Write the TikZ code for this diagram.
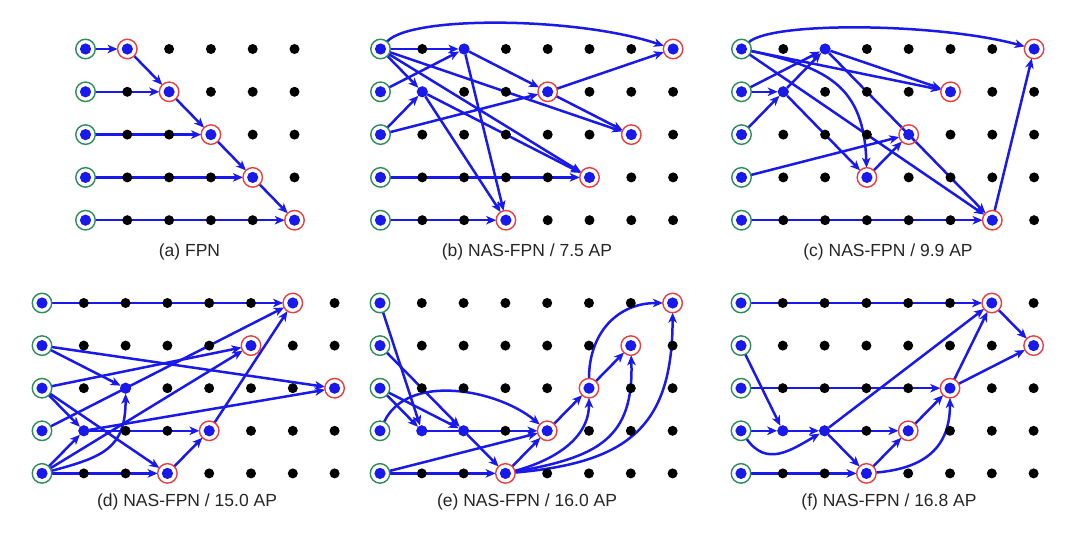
\documentclass[tikz,border=0pt]{standalone}
\usepackage{fontspec}
\setmainfont{Liberation Sans}
\usetikzlibrary{arrows.meta}
\definecolor{nblue}{RGB}{25,25,235}
\definecolor{ngreen}{RGB}{45,140,90}
\definecolor{nred}{RGB}{232,62,62}
\pgfdeclarelayer{paper}
\pgfdeclarelayer{edges}
\pgfsetlayers{paper,edges,main}
\tikzset{
  inpn/.style={circle, draw=ngreen, line width=1.4pt, minimum size=19.5pt, inner sep=0pt, outer sep=0pt,
    path picture={\fill[nblue] (path picture bounding box.center) circle (5.6pt);}},
  outn/.style={inpn, draw=nred},
  midn/.style={circle, fill=nblue, minimum size=11.2pt, inner sep=0pt, outer sep=0pt},
  conn/.style={draw=nblue, line width=2.5pt, -{Stealth[length=10pt,width=8.5pt,inset=2.8pt]}},
  capt/.style={font=\fontsize{17.5}{21}\selectfont, inner sep=0pt, text=black!85},
  gdot/.style={fill=black},
}
\newcommand{\gridots}[1]{\foreach \c in {0,...,#1} \foreach \r in {0,...,4} \fill[gdot] (\c,-\r) circle (5pt);}
\begin{document}
\begin{tikzpicture}
\begin{pgfonlayer}{paper}
\fill[white] (0,0) rectangle (1080pt,542pt);
\end{pgfonlayer}
\useasboundingbox (0,0) rectangle (1080pt,542pt);

% ---------- (a) ----------
\begin{scope}[shift={(85.5pt,493pt)}, x=41.8pt, y=42.8pt]
 \gridots{5}
 \foreach \r in {0,...,4} \node[inpn] (a0\r) at (0,-\r) {};
 \node[outn] (a10) at (1,0) {};
 \node[outn] (a21) at (2,-1) {};
 \node[outn] (a32) at (3,-2) {};
 \node[outn] (a43) at (4,-3) {};
 \node[outn] (a54) at (5,-4) {};
 \begin{pgfonlayer}{edges}
  \draw[conn] (a00) -- (a10);
  \draw[conn] (a10) -- (a21);
  \draw[conn] (a01) -- (a21);
  \draw[conn] (a21) -- (a32);
  \draw[conn] (a02) -- (a32);
  \draw[conn] (a32) -- (a43);
  \draw[conn] (a03) -- (a43);
  \draw[conn] (a43) -- (a54);
  \draw[conn] (a04) -- (a54);
 \end{pgfonlayer}
\end{scope}

% ---------- (b) ----------
\begin{scope}[shift={(380.5pt,493pt)}, x=41.8pt, y=42.8pt]
 \gridots{7}
 \foreach \r in {0,...,4} \node[inpn] (b0\r) at (0,-\r) {};
 \node[midn] (b20) at (2,0) {};
 \node[midn] (b11) at (1,-1) {};
 \node[outn] (b70) at (7,0) {};
 \node[outn] (b41) at (4,-1) {};
 \node[outn] (b62) at (6,-2) {};
 \node[outn] (b53) at (5,-3) {};
 \node[outn] (b34) at (3,-4) {};
 \begin{pgfonlayer}{edges}
  \draw[conn] (b00) .. controls +(30pt,34pt) and +(-95pt,32pt) .. (b70);
  \draw[conn] (b00) -- (b20);
  \draw[conn] (b01) -- (b20);
  \draw[conn] (b00) -- (b11);
  \draw[conn] (b02) -- (b11);
  \draw[conn] (b02) -- (b41);
  \draw[conn] (b20) -- (b41);
  \draw[conn] (b41) -- (b70);
  \draw[conn] (b00) -- (b62);
  \draw[conn] (b41) -- (b62);
  \draw[conn] (b00) -- (b53);
  \draw[conn] (b11) -- (b53);
  \draw[conn] (b03) -- (b53);
  \draw[conn] (b20) -- (b34);
  \draw[conn] (b11) -- (b34);
  \draw[conn] (b04) -- (b34);
 \end{pgfonlayer}
\end{scope}

% ---------- (c) ----------
\begin{scope}[shift={(741.5pt,493pt)}, x=41.8pt, y=42.8pt]
 \gridots{7}
 \foreach \r in {0,...,4} \node[inpn] (c0\r) at (0,-\r) {};
 \node[midn] (c20) at (2,0) {};
 \node[midn] (c11) at (1,-1) {};
 \node[outn] (c70) at (7,0) {};
 \node[outn] (c51) at (5,-1) {};
 \node[outn] (c42) at (4,-2) {};
 \node[outn] (c33) at (3,-3) {};
 \node[outn] (c64) at (6,-4) {};
 \begin{pgfonlayer}{edges}
  \draw[conn] (c00) .. controls +(30pt,28pt) and +(-95pt,26pt) .. (c70);
  \draw[conn] (c01) -- (c20);
  \draw[conn] (c11) -- (c20);
  \draw[conn] (c01) -- (c11);
  \draw[conn] (c02) -- (c11);
  \draw[conn] (c00) -- (c51);
  \draw[conn] (c20) -- (c51);
  \draw[conn] (c00) to[out=-12, in=92, looseness=1.25] (c33);
  \draw[conn] (c11) -- (c33);
  \draw[conn] (c03) -- (c42);
  \draw[conn] (c33) -- (c42);
  \draw[conn] (c00) -- (c64);
  \draw[conn] (c20) -- (c64);
  \draw[conn] (c04) -- (c64);
  \draw[conn] (c64) -- (c70);
 \end{pgfonlayer}
\end{scope}

% ---------- (d) ----------
\begin{scope}[shift={(42pt,239pt)}, x=41.8pt, y=42.6pt]
 \gridots{7}
 \foreach \r in {0,...,4} \node[inpn] (d0\r) at (0,-\r) {};
 \node[midn] (d22) at (2,-2) {};
 \node[midn] (d13) at (1,-3) {};
 \node[outn] (d60) at (6,0) {};
 \node[outn] (d51) at (5,-1) {};
 \node[outn] (d72) at (7,-2) {};
 \node[outn] (d43) at (4,-3) {};
 \node[outn] (d34) at (3,-4) {};
 \begin{pgfonlayer}{edges}
  \draw[conn] (d00) -- (d60);
  \draw[conn] (d01) -- (d22);
  \draw[conn] (d01) -- (d72);
  \draw[conn] (d02) -- (d51);
  \draw[conn] (d02) -- (d13);
  \draw[conn] (d02) -- (d34);
  \draw[conn] (d03) -- (d60);
  \draw[conn] (d04) -- (d13);
  \draw[conn] (d04) to[out=15, in=-90, looseness=1.3] (d22);
  \draw[conn] (d04) -- (d51);
  \draw[conn] (d04) -- (d34);
  \draw[conn] (d13) -- (d43);
  \draw[conn] (d13) -- (d72);
  \draw[conn] (d43) -- (d60);
  \draw[conn] (d34) -- (d43);
 \end{pgfonlayer}
\end{scope}

% ---------- (e) ----------
\begin{scope}[shift={(380pt,239pt)}, x=41.8pt, y=42.6pt]
 \gridots{7}
 \foreach \r in {0,...,4} \node[inpn] (e0\r) at (0,-\r) {};
 \node[midn] (e13) at (1,-3) {};
 \node[midn] (e23) at (2,-3) {};
 \node[outn] (e34) at (3,-4) {};
 \node[outn] (e43) at (4,-3) {};
 \node[outn] (e52) at (5,-2) {};
 \node[outn] (e61) at (6,-1) {};
 \node[outn] (e70) at (7,0) {};
 \begin{pgfonlayer}{edges}
  \draw[conn] (e00) -- (e13);
  \draw[conn] (e01) -- (e23);
  \draw[conn] (e02) -- (e13);
  \draw[conn] (e02) -- (e23);
  \draw[conn] (e03) to[out=65, in=140, looseness=0.9] (e43);
  \draw[conn] (e13) -- (e43);
  \draw[conn] (e04) -- (e43);
  \draw[conn] (e04) -- (e34);
  \draw[conn] (e23) -- (e34);
  \draw[conn] (e34) -- (e43);
  \draw[conn] (e43) -- (e52);
  \draw[conn] (e52) -- (e61);
  \draw[conn] (e52) to[out=90, in=180, looseness=1.1] (e70);
  \draw[conn] (e34) to[out=15, in=-90] (e52);
  \draw[conn] (e34) to[out=10, in=-88, looseness=1.3] (e61);
  \draw[conn] (e34) to[out=5, in=-90, looseness=1.3] (e70);
 \end{pgfonlayer}
\end{scope}

% ---------- (f) ----------
\begin{scope}[shift={(741pt,239pt)}, x=41.8pt, y=42.6pt]
 \gridots{7}
 \foreach \r in {0,...,4} \node[inpn] (f0\r) at (0,-\r) {};
 \node[midn] (f13) at (1,-3) {};
 \node[midn] (f23) at (2,-3) {};
 \node[outn] (f60) at (6,0) {};
 \node[outn] (f71) at (7,-1) {};
 \node[outn] (f52) at (5,-2) {};
 \node[outn] (f43) at (4,-3) {};
 \node[outn] (f34) at (3,-4) {};
 \begin{pgfonlayer}{edges}
  \draw[conn] (f00) -- (f60);
  \draw[conn] (f01) -- (f13);
  \draw[conn] (f02) -- (f52);
  \draw[conn] (f03) -- (f13);
  \draw[conn] (f03) to[out=-55, in=-150, looseness=1.2] (f23);
  \draw[conn] (f13) -- (f23);
  \draw[conn] (f23) -- (f43);
  \draw[conn] (f23) -- (f60);
  \draw[conn] (f23) -- (f34);
  \draw[conn] (f04) -- (f34);
  \draw[conn] (f34) -- (f43);
  \draw[conn] (f43) -- (f52);
  \draw[conn] (f34) to[out=5, in=-90, looseness=1.2] (f52);
  \draw[conn] (f52) -- (f60);
  \draw[conn] (f52) -- (f71);
  \draw[conn] (f60) -- (f71);
 \end{pgfonlayer}
\end{scope}

% ---------- captions ----------
\node[capt] (capa) at (189.5pt,290pt) {(a) FPN};
\node[capt] (capb) at (527pt,290pt) {(b) NAS-FPN / 7.5 AP};
\node[capt] (capc) at (888pt,290pt) {(c) NAS-FPN / 9.9 AP};
\node[capt] (capd) at (187pt,40.5pt) {(d) NAS-FPN / 15.0 AP};
\node[capt] (cape) at (527pt,40.5pt) {(e) NAS-FPN / 16.0 AP};
\node[capt] (capf) at (889pt,40.5pt) {(f) NAS-FPN / 16.8 AP};
\end{tikzpicture}
\end{document}
